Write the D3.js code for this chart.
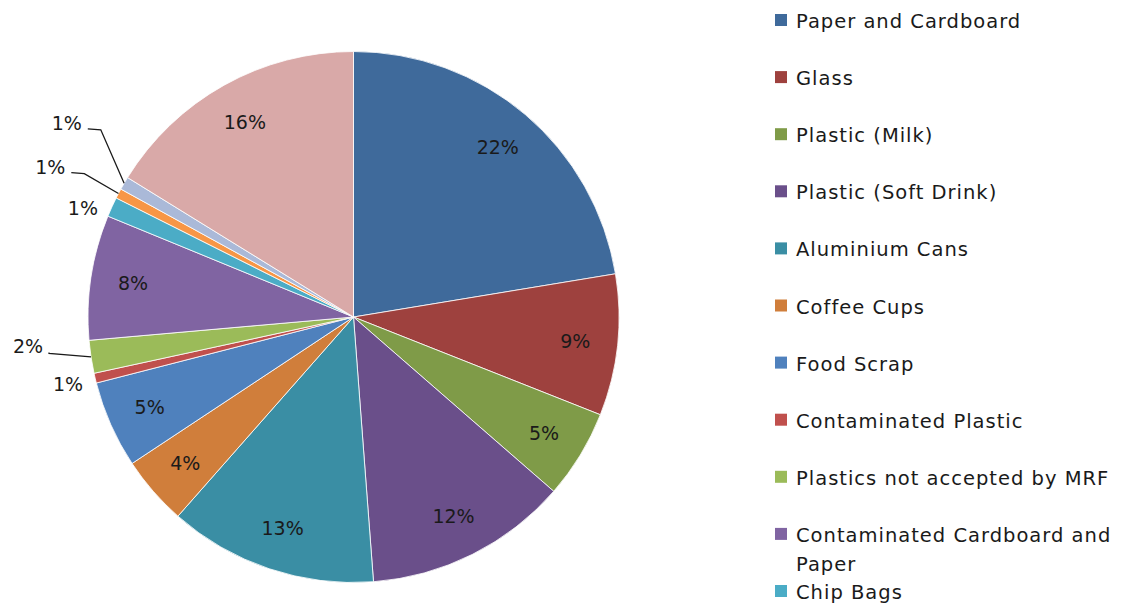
<!DOCTYPE html>
<html>
<head>
<meta charset="utf-8">
<script src="https://cdn.jsdelivr.net/npm/d3@7/dist/d3.min.js"></script>
<style>
  html, body { margin: 0; padding: 0; background: #ffffff; }
  svg { display: block; }
  text { font-family: "DejaVu Sans", sans-serif; fill: #1a1a1a; }
</style>
</head>
<body>
<svg id="chart" width="1125" height="607"></svg>
<script>
// ---- data ----
const categories = [
  "Paper and Cardboard",
  "Glass",
  "Plastic (Milk)",
  "Plastic (Soft Drink)",
  "Aluminium Cans",
  "Coffee Cups",
  "Food Scrap",
  "Contaminated Plastic",
  "Plastics not accepted by MRF",
  "Contaminated Cardboard and Paper",
  "Chip Bags",
  "Coffee Cup Lids",
  "Soft Plastics",
  "Landfill"
];
const values = [22.4, 8.6, 5.4, 12.4, 12.7, 4.2, 5.3, 0.6, 2.0, 7.6, 1.2, 0.6, 0.8, 16.2];
const colors = [
  "#3F6A9B", "#9E413E", "#7F9B48", "#6A4F8A", "#3A8EA4", "#D07E3B",
  "#4F81BD", "#C0504D", "#9BBB59", "#8064A2", "#4BACC6", "#F79646",
  "#AAB9D8", "#D9A9A8"
];

// ---- layout ----
const W = 1125, H = 607;
const svg = d3.select("#chart");
const cx = 353.5, cy = 317, R = 265.5;
const g = svg.append("g").attr("transform", `translate(${cx},${cy})`);

const total = d3.sum(values);
const pie = d3.pie().sort(null).value(d => d)(values);
const arc = d3.arc().innerRadius(0).outerRadius(R);

g.selectAll("path.slice")
  .data(pie)
  .join("path")
  .attr("class", "slice")
  .attr("d", arc)
  .attr("fill", (d, i) => colors[i])
  .attr("stroke", "#ffffff")
  .attr("stroke-width", 0.8);

const fmt = v => Math.round(v / total * 100) + "%";

// label placement: inside for larger slices, outside (some with leader lines) for tiny ones
const outside = {
  7:  { r: 1.105, dy: 0,   leader: false },
  8:  { r: 1.24,  dy: -20, leader: true },
  10: { r: 1.12,  dy: 14,  leader: false },
  11: { r: 1.29,  dy: 9,   leader: true },
  12: { r: 1.25,  dy: -27, leader: true }
};
const labelArc = d3.arc().innerRadius(R * 0.84).outerRadius(R * 0.84);

function polar(angle, r) {
  return [Math.sin(angle) * r, -Math.cos(angle) * r];
}

pie.forEach((d, i) => {
  const mid = (d.startAngle + d.endAngle) / 2;
  let x, y;
  if (outside[i]) {
    const o = outside[i];
    [x, y] = polar(mid, R * o.r);
    y += o.dy;
    if (o.leader) {
      const edge = polar(mid, R);
      const lx = x + 21;
      const pts = [[lx, y + 6], [lx + (i === 8 ? 0 : 13), y + 7], edge];
      g.append("polyline")
        .attr("points", pts.map(p => p.join(",")).join(" "))
        .attr("fill", "none")
        .attr("stroke", "#1a1a1a")
        .attr("stroke-width", 1.3);
    }
  } else {
    [x, y] = labelArc.centroid(d);
  }
  g.append("text")
    .attr("x", x)
    .attr("y", y)
    .attr("dy", "0.36em")
    .attr("text-anchor", "middle")
    .style("font-size", "19px")
    .text(fmt(d.value));
});

// ---- legend (entries past the bottom edge are not shown, as in the reference) ----
const legendTop = 20;
const legend = svg.append("g").attr("transform", `translate(775,${legendTop})`);
const step = 57.1;
categories.forEach((c, i) => {
  if (legendTop + i * step > H - 10) return;
  const item = legend.append("g").attr("transform", `translate(0,${i * step})`);
  item.append("rect")
    .attr("x", 0).attr("y", -6)
    .attr("width", 12).attr("height", 12)
    .attr("fill", colors[i]);
  const lines = c === "Contaminated Cardboard and Paper"
    ? ["Contaminated Cardboard and", "Paper"] : [c];
  lines.forEach((ln, k) => {
    item.append("text")
      .attr("x", 21)
      .attr("y", 8 + k * 29)
      .style("font-size", "19.5px")
      .style("letter-spacing", "1px")
      .text(ln);
  });
});
</script>
</body>
</html>
